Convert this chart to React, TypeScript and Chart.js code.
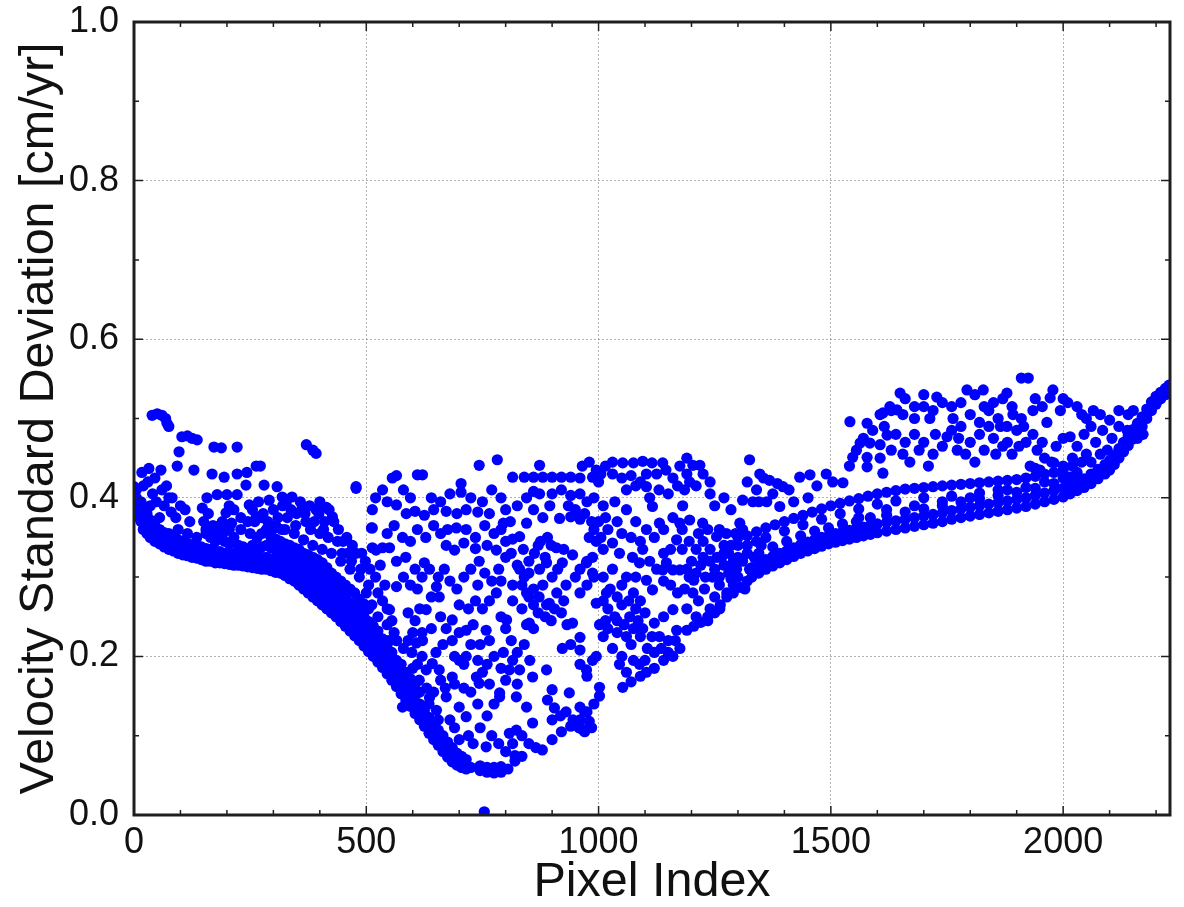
import { useEffect, useRef } from "react";
import { Chart, registerables } from "chart.js";

Chart.register(...registerables);

type Col = [number, number[]];
type Pt = [number, number];

const xTitle = "Pixel Index";
const yTitle = "Velocity Standard Deviation [cm/yr]";
const xMin = 0;
const xMax = 2230;
const yMin = 0;
const yMax = 1.0;
const xTickValues = [0, 500, 1000, 1500, 2000];
const yTickValues = [0, 0.2, 0.4, 0.6, 0.8, 1.0];

// dense descending band on the left and the lower edge of the valley
const leftBand: Col[] = [
  [0, [0.414, 0.405, 0.395]],
  [5, [0.4, 0.385, 0.41]],
  [10, [0.39, 0.375]],
  [15, [0.38, 0.37, 0.395]],
  [20, [0.372, 0.36, 0.385]],
  [28, [0.365, 0.355, 0.38]],
  [35, [0.36, 0.35, 0.372, 0.39]],
  [45, [0.355, 0.345, 0.365]],
  [55, [0.35, 0.342, 0.36, 0.375]],
  [65, [0.347, 0.338, 0.356]],
  [75, [0.345, 0.335, 0.355]],
  [85, [0.34, 0.333, 0.352]],
  [95, [0.338, 0.33, 0.347, 0.36]],
  [105, [0.335, 0.328, 0.345]],
  [115, [0.333, 0.327, 0.343, 0.355]],
  [125, [0.332, 0.325, 0.34]],
  [135, [0.33, 0.324, 0.34, 0.35]],
  [145, [0.328, 0.322, 0.338]],
  [155, [0.327, 0.32, 0.336, 0.355, 0.36]],
  [165, [0.325, 0.32, 0.335, 0.35, 0.362]],
  [175, [0.324, 0.318, 0.333, 0.345, 0.358]],
  [185, [0.323, 0.318, 0.332, 0.35, 0.365]],
  [195, [0.322, 0.317, 0.33, 0.345, 0.357]],
  [205, [0.321, 0.316, 0.33, 0.342, 0.36]],
  [215, [0.32, 0.315, 0.33, 0.35]],
  [225, [0.32, 0.315, 0.328, 0.34]],
  [235, [0.32, 0.314, 0.327, 0.338]],
  [245, [0.319, 0.313, 0.327, 0.335]],
  [255, [0.318, 0.312, 0.326, 0.34]],
  [265, [0.317, 0.311, 0.325, 0.335, 0.35]],
  [275, [0.317, 0.31, 0.325, 0.338, 0.355]],
  [285, [0.316, 0.31, 0.325, 0.34, 0.36]],
  [295, [0.315, 0.308, 0.323, 0.337, 0.35]],
  [305, [0.313, 0.306, 0.322, 0.335, 0.348, 0.365]],
  [315, [0.312, 0.305, 0.32, 0.332, 0.345]],
  [325, [0.31, 0.302, 0.318, 0.33, 0.342, 0.36]],
  [335, [0.308, 0.298, 0.316, 0.327, 0.34]],
  [345, [0.305, 0.295, 0.312, 0.325, 0.337, 0.355]],
  [355, [0.3, 0.29, 0.31, 0.322, 0.335]],
  [365, [0.296, 0.285, 0.306, 0.318, 0.33, 0.347]],
  [375, [0.292, 0.28, 0.302, 0.315, 0.328]],
  [385, [0.288, 0.275, 0.298, 0.312, 0.325, 0.34]],
  [395, [0.283, 0.27, 0.293, 0.308, 0.322]],
  [405, [0.278, 0.265, 0.288, 0.302, 0.318, 0.335]],
  [415, [0.273, 0.26, 0.283, 0.297, 0.312]],
  [425, [0.268, 0.255, 0.278, 0.292, 0.305, 0.33]],
  [435, [0.262, 0.25, 0.272, 0.287, 0.3]],
  [445, [0.257, 0.244, 0.266, 0.28, 0.295, 0.32]],
  [455, [0.25, 0.238, 0.26, 0.275, 0.29]],
  [465, [0.244, 0.232, 0.254, 0.268, 0.285, 0.31]],
  [475, [0.238, 0.226, 0.248, 0.262, 0.28]],
  [485, [0.232, 0.22, 0.242, 0.256, 0.272, 0.3]],
  [495, [0.225, 0.213, 0.235, 0.25, 0.266]],
  [505, [0.218, 0.206, 0.228, 0.244, 0.26, 0.29]],
  [515, [0.21, 0.2, 0.222, 0.238]],
  [525, [0.203, 0.193, 0.215, 0.232, 0.25]],
  [535, [0.196, 0.186, 0.208, 0.222]],
  [545, [0.188, 0.178, 0.2, 0.215, 0.24]],
  [555, [0.18, 0.17, 0.19, 0.205]],
  [565, [0.172, 0.162, 0.182, 0.195, 0.22]],
  [575, [0.163, 0.153, 0.175, 0.19]],
  [585, [0.155, 0.145, 0.167, 0.18]],
  [595, [0.147, 0.137, 0.158, 0.172]],
  [605, [0.138, 0.128, 0.15, 0.165]],
  [615, [0.13, 0.12, 0.14, 0.155]],
  [625, [0.122, 0.112, 0.132]],
  [635, [0.113, 0.103, 0.123, 0.14]],
  [645, [0.105, 0.095, 0.115]],
  [655, [0.097, 0.088, 0.107, 0.12]],
  [665, [0.09, 0.08, 0.1]],
  [675, [0.082, 0.073, 0.092]],
  [685, [0.075, 0.067, 0.085]],
  [695, [0.07, 0.063, 0.078]],
  [705, [0.066, 0.06, 0.074]],
  [715, [0.062, 0.058, 0.07]],
  [725, [0.06]],
  [745, [0.056, 0.062]],
  [760, [0.054, 0.06]],
  [775, [0.053, 0.06]],
  [790, [0.054, 0.061]],
  [805, [0.058]],
  [820, [0.068, 0.075]],
  [835, [0.074]],
];

// scattered points above the left band
const leftUpper: Pt[] = [
  [39, 0.504], [50, 0.506], [60, 0.504], [68, 0.5], [71, 0.494], [75, 0.49],
  [103, 0.477], [115, 0.478], [125, 0.475], [136, 0.473], [97, 0.458], [172, 0.464],
  [188, 0.463], [222, 0.464], [93, 0.44], [129, 0.435], [168, 0.43], [194, 0.426],
  [222, 0.43], [243, 0.432], [263, 0.44], [272, 0.44], [17, 0.432], [32, 0.437],
  [58, 0.435], [45, 0.425], [371, 0.467], [392, 0.456], [385, 0.46], [478, 0.412],
  [60, 0.41], [147, 0.387], [157, 0.4], [179, 0.404], [200, 0.404], [222, 0.404],
  [198, 0.381], [80, 0.382], [82, 0.4], [70, 0.415], [241, 0.416], [280, 0.416],
  [308, 0.414], [248, 0.391], [263, 0.376], [291, 0.397], [319, 0.401], [340, 0.401],
  [362, 0.388], [392, 0.385], [414, 0.388], [427, 0.376], [284, 0.356], [306, 0.363],
  [513, 0.385], [513, 0.362], [521, 0.334], [170, 0.365], [190, 0.37], [210, 0.368],
  [230, 0.36], [250, 0.355], [260, 0.37], [275, 0.375], [300, 0.385], [320, 0.39],
  [330, 0.375], [350, 0.38], [370, 0.37], [380, 0.36], [400, 0.355], [410, 0.37],
  [440, 0.36], [450, 0.345], [470, 0.34], [460, 0.33], [490, 0.33], [478, 0.414],
  [245, 0.37], [255, 0.385], [268, 0.395], [278, 0.38], [288, 0.37], [298, 0.36],
  [310, 0.375], [318, 0.36], [328, 0.395], [338, 0.385], [348, 0.365], [358, 0.395],
  [368, 0.38], [378, 0.39], [388, 0.37], [398, 0.38], [408, 0.36], [418, 0.35],
  [430, 0.37], [438, 0.345], [448, 0.33], [458, 0.35], [468, 0.32], [478, 0.33],
  [488, 0.31], [498, 0.32], [508, 0.31], [520, 0.3], [530, 0.315], [540, 0.29],
  [535, 0.27], [525, 0.28], [500, 0.28], [512, 0.265], [545, 0.26], [555, 0.245],
  [560, 0.23], [548, 0.22], [400, 0.395], [420, 0.385], [230, 0.375], [215, 0.385],
  [205, 0.39], [150, 0.37], [160, 0.38], [120, 0.37], [110, 0.385], [100, 0.39],
  [90, 0.375], [40, 0.405], [30, 0.42], [20, 0.415], [48, 0.395], [65, 0.39], [75, 0.4],
];

// scattered points inside the valley (x 500 - 1000)
const valleyScatter: Pt[] = [
  [556, 0.425], [565, 0.428], [610, 0.429], [621, 0.429], [704, 0.418], [704, 0.407],
  [743, 0.441], [782, 0.448], [873, 0.441], [815, 0.426], [840, 0.426], [860, 0.426],
  [880, 0.426], [900, 0.426], [920, 0.426], [940, 0.426], [960, 0.425],
  [565, 0.391], [586, 0.38], [605, 0.383], [625, 0.378], [645, 0.385], [672, 0.383],
  [695, 0.38], [715, 0.385], [740, 0.382], [765, 0.38], [845, 0.4], [860, 0.408],
  [873, 0.405], [900, 0.405], [920, 0.41], [940, 0.403], [960, 0.405], [916, 0.374],
  [940, 0.376], [960, 0.373],
  [511, 0.362], [694, 0.362], [715, 0.36], [735, 0.35], [755, 0.365], [775, 0.355],
  [795, 0.368], [815, 0.348], [845, 0.368], [830, 0.351],
  [513, 0.337], [535, 0.337], [550, 0.337], [565, 0.32], [585, 0.325], [605, 0.31],
  [625, 0.318], [636, 0.31], [672, 0.34], [690, 0.334], [710, 0.343], [735, 0.336],
  [760, 0.34], [780, 0.334], [743, 0.32], [755, 0.305], [770, 0.295], [785, 0.31],
  [800, 0.325], [815, 0.29], [873, 0.31], [888, 0.318], [909, 0.337], [922, 0.318],
  [944, 0.328], [974, 0.318], [960, 0.28],
  [629, 0.259], [651, 0.288], [657, 0.275], [685, 0.246], [715, 0.233], [758, 0.233],
  [802, 0.246], [851, 0.242], [815, 0.27], [835, 0.26], [850, 0.275], [870, 0.255],
  [888, 0.265], [894, 0.267], [944, 0.242], [960, 0.224], [922, 0.21], [940, 0.215],
  [960, 0.208],
  [685, 0.22], [715, 0.2], [700, 0.195], [621, 0.22], [629, 0.183], [642, 0.191],
  [614, 0.17], [657, 0.183], [685, 0.174], [743, 0.166], [737, 0.174], [787, 0.154],
  [823, 0.149], [808, 0.183], [830, 0.183], [858, 0.174], [888, 0.183], [900, 0.158],
  [937, 0.154], [974, 0.183], [987, 0.195], [960, 0.136],
  [672, 0.149], [651, 0.132], [700, 0.136], [700, 0.095], [715, 0.124], [758, 0.086],
  [808, 0.103], [823, 0.107], [787, 0.149], [845, 0.136], [858, 0.116],
  [879, 0.082], [900, 0.095], [920, 0.105], [940, 0.112], [960, 0.12], [975, 0.13],
  [990, 0.14], [1002, 0.15], [980, 0.118], [965, 0.108],
  [565, 0.288], [550, 0.259], [565, 0.22], [580, 0.21], [600, 0.23], [608, 0.217],
  [620, 0.23], [690, 0.2], [710, 0.19], [570, 0.18], [590, 0.165], [610, 0.19],
  [630, 0.16], [578, 0.136], [600, 0.14], [620, 0.125], [636, 0.148], [754, 0.004],
  [840, 0.3], [860, 0.285], [880, 0.29], [900, 0.3], [850, 0.32], [830, 0.31],
  [870, 0.34], [890, 0.35], [905, 0.26], [925, 0.27], [930, 0.29], [950, 0.3],
  [975, 0.29], [990, 0.3],
  [790, 0.36], [800, 0.345], [812, 0.33], [825, 0.315], [838, 0.335], [850, 0.305],
  [862, 0.33], [875, 0.345], [885, 0.325], [898, 0.34], [912, 0.31], [925, 0.335],
  [835, 0.29], [845, 0.28], [860, 0.265], [872, 0.275], [885, 0.25], [898, 0.245],
  [910, 0.28], [920, 0.255], [932, 0.24], [845, 0.24], [860, 0.235],
  [790, 0.25], [800, 0.235], [812, 0.22], [825, 0.205], [840, 0.215], [852, 0.195],
  [795, 0.205], [815, 0.195], [800, 0.17], [790, 0.185], [825, 0.165],
  [890, 0.145], [905, 0.135], [918, 0.125], [930, 0.13], [945, 0.12], [958, 0.11],
  [970, 0.105], [900, 0.12],
  [520, 0.4], [535, 0.41], [545, 0.395], [580, 0.41], [595, 0.4], [640, 0.4],
  [660, 0.395], [680, 0.405], [725, 0.4], [750, 0.395], [770, 0.41], [790, 0.4],
  [800, 0.385], [810, 0.37], [825, 0.39],
  [545, 0.355], [560, 0.365], [578, 0.35], [595, 0.345], [610, 0.36], [628, 0.35],
  [645, 0.365], [660, 0.355], [675, 0.36],
  [580, 0.3], [595, 0.29], [610, 0.285], [620, 0.3], [640, 0.275], [655, 0.3],
  [668, 0.31], [680, 0.295], [695, 0.285], [710, 0.3], [725, 0.31], [740, 0.29],
  [700, 0.265], [720, 0.26], [735, 0.27], [750, 0.26], [765, 0.27], [780, 0.28],
  [790, 0.295],
  [590, 0.255], [605, 0.245], [615, 0.26], [640, 0.235], [660, 0.25], [672, 0.235],
  [700, 0.23], [730, 0.24], [745, 0.215], [765, 0.22], [775, 0.2], [760, 0.19],
  [725, 0.215], [740, 0.195], [750, 0.18], [765, 0.165], [775, 0.14], [760, 0.125],
  [740, 0.14], [725, 0.155], [710, 0.16], [690, 0.165], [670, 0.16], [660, 0.17],
  [645, 0.155], [680, 0.12], [690, 0.11], [720, 0.1], [730, 0.09], [745, 0.11],
  [770, 0.1], [785, 0.09], [800, 0.08], [815, 0.09], [835, 0.1], [850, 0.09],
  [865, 0.085], [590, 0.22], [598, 0.205], [650, 0.205], [665, 0.215], [600, 0.185],
  [620, 0.2], [860, 0.385], [880, 0.375], [895, 0.39], [935, 0.39], [950, 0.385],
  [970, 0.38], [985, 0.37],
];

// scattered points in the middle-right (x 960 - 1650)
const midScatter: Pt[] = [
  [1052, 0.444], [1075, 0.444], [1095, 0.446], [1115, 0.444], [1138, 0.444], [1190, 0.45],
  [1203, 0.441], [1218, 0.441], [987, 0.426], [1005, 0.43], [1030, 0.43], [1050, 0.425],
  [1070, 0.428], [1090, 0.42], [1103, 0.43], [1103, 0.414], [1181, 0.39], [1185, 0.41],
  [1190, 0.43], [1196, 0.42], [1325, 0.448], [1347, 0.43], [1368, 0.422], [1385, 0.418],
  [1397, 0.414], [1433, 0.426], [1455, 0.429], [1451, 0.4], [1504, 0.42], [1526, 0.419],
  [1563, 0.469], [1584, 0.469], [1606, 0.467], [1547, 0.451], [1578, 0.451], [1578, 0.439],
  [1612, 0.431], [1621, 0.479], [1541, 0.496], [1578, 0.494], [1612, 0.507], [1627, 0.515],
  [1642, 0.511],
  [1310, 0.397], [1332, 0.395], [1345, 0.395], [1362, 0.395], [1390, 0.389], [1110, 0.4],
  [1130, 0.41], [1150, 0.405], [1170, 0.415], [1116, 0.389], [1131, 0.368], [1103, 0.36],
  [1175, 0.368], [1196, 0.372], [1224, 0.368], [1254, 0.351], [1304, 0.368], [1310, 0.36],
  [987, 0.325], [1010, 0.335], [1030, 0.343], [1045, 0.33], [1073, 0.325], [1088, 0.318],
  [1103, 0.296], [1116, 0.284], [1146, 0.318], [1155, 0.335], [1168, 0.347], [1138, 0.309],
  [1160, 0.309], [1175, 0.309],
  [1190, 0.31], [1200, 0.32], [1210, 0.305], [1220, 0.315], [1230, 0.3], [1240, 0.32],
  [1250, 0.31], [1260, 0.3], [1270, 0.315], [1280, 0.305], [1290, 0.32], [1297, 0.31],
  [1205, 0.296], [1225, 0.325], [1245, 0.3], [1265, 0.325], [1285, 0.298],
  [1203, 0.28], [1215, 0.27], [1228, 0.285], [1240, 0.26], [1250, 0.275], [1262, 0.265],
  [1276, 0.28], [1190, 0.26], [1210, 0.25], [1235, 0.245],
  [960, 0.31], [975, 0.32], [987, 0.305], [995, 0.267], [1017, 0.28], [1002, 0.24],
  [1020, 0.235], [1040, 0.245], [1060, 0.225], [1010, 0.225], [1030, 0.21], [1050, 0.2],
  [1070, 0.215], [1088, 0.19], [1045, 0.19], [1067, 0.25], [1085, 0.245], [1100, 0.255],
  [1120, 0.242], [1140, 0.25], [1160, 0.259], [1131, 0.225], [1150, 0.22], [1168, 0.233],
  [960, 0.19], [975, 0.175], [995, 0.2], [1002, 0.161], [970, 0.13], [985, 0.11],
  [1052, 0.161], [1070, 0.168], [1090, 0.175], [1103, 0.18], [1120, 0.185], [1140, 0.195],
  [1160, 0.2], [1175, 0.21], [1190, 0.233], [1205, 0.238], [1220, 0.243], [1235, 0.25],
  [1250, 0.255], [1261, 0.26], [1276, 0.275], [1290, 0.28], [1305, 0.287], [1320, 0.295],
  [1300, 0.3], [1310, 0.32], [1320, 0.33], [1290, 0.31], [1300, 0.34], [1280, 0.33],
  [1270, 0.34], [1315, 0.285], [1325, 0.31], [1335, 0.325], [1350, 0.34], [1260, 0.29],
  [1290, 0.29],
  [975, 0.395], [990, 0.4], [1010, 0.39], [1035, 0.395], [1060, 0.385], [1080, 0.37],
  [1000, 0.37], [1020, 0.36], [1050, 0.355], [1070, 0.35], [1090, 0.345], [980, 0.35],
  [995, 0.345], [1040, 0.37], [1120, 0.35], [1140, 0.36], [1160, 0.375], [1180, 0.36],
  [1140, 0.33], [1010, 0.3], [1030, 0.31], [1050, 0.29], [1060, 0.3], [1075, 0.28],
  [1090, 0.27], [1020, 0.26], [1040, 0.275], [1080, 0.3],
  [965, 0.44], [980, 0.445], [995, 0.435], [1000, 0.42], [1015, 0.44], [1030, 0.445],
  [990, 0.36], [1005, 0.35], [1015, 0.375],
  [1010, 0.27], [1025, 0.285], [1035, 0.25], [1050, 0.265], [1065, 0.27], [1080, 0.26],
  [1095, 0.235], [1015, 0.245], [1040, 0.23], [1055, 0.24], [1075, 0.235], [1090, 0.225],
  [1105, 0.21], [1120, 0.205], [1135, 0.21], [1150, 0.205], [1165, 0.22], [1060, 0.18],
  [1075, 0.195], [1100, 0.195], [1115, 0.225],
  [1060, 0.41], [1080, 0.415], [1125, 0.43], [1145, 0.435], [1160, 0.425], [1175, 0.44],
  [1210, 0.415], [1225, 0.43], [1240, 0.42],
  [1095, 0.335], [1110, 0.32], [1125, 0.31], [1140, 0.295], [1155, 0.29], [1170, 0.28],
  [1185, 0.285], [1195, 0.3], [1180, 0.335], [1195, 0.345], [1210, 0.335], [1225, 0.345],
  [1240, 0.335], [1255, 0.325], [1270, 0.33], [1285, 0.34], [1300, 0.325], [1215, 0.355],
  [1235, 0.36], [1260, 0.36], [1275, 0.355], [1295, 0.355],
  [1250, 0.39], [1270, 0.4], [1285, 0.385], [1240, 0.405], [1320, 0.42], [1340, 0.41],
  [1355, 0.425], [1375, 0.405], [1410, 0.41], [1420, 0.395], [1470, 0.415], [1490, 0.43],
];

// rising lower strand on the right
const rightLower: Col[] = [
  [1330, [0.3, 0.312]], [1345, [0.305, 0.318, 0.33]], [1360, [0.31, 0.322]],
  [1375, [0.314, 0.326, 0.338]], [1390, [0.318, 0.33]], [1405, [0.322, 0.333, 0.345]],
  [1420, [0.326, 0.337]], [1435, [0.33, 0.341, 0.352]], [1450, [0.333, 0.344]],
  [1465, [0.336, 0.347, 0.358]], [1480, [0.339, 0.35]], [1495, [0.342, 0.352, 0.362]],
  [1510, [0.344, 0.355]], [1525, [0.346, 0.357, 0.367]], [1540, [0.348, 0.359]],
  [1555, [0.35, 0.361, 0.37]], [1570, [0.352, 0.363]], [1585, [0.354, 0.365, 0.375]],
  [1600, [0.356, 0.367]], [1620, [0.358, 0.369, 0.378]], [1640, [0.36, 0.371]],
  [1660, [0.362, 0.373, 0.382]], [1680, [0.364, 0.375]], [1700, [0.366, 0.377, 0.386]],
  [1720, [0.368, 0.379]], [1740, [0.37, 0.381, 0.39]], [1760, [0.373, 0.384]],
  [1780, [0.375, 0.386, 0.395]], [1800, [0.377, 0.388]], [1820, [0.379, 0.39, 0.399]],
  [1840, [0.381, 0.392]], [1860, [0.383, 0.394, 0.403]], [1880, [0.385, 0.396]],
  [1900, [0.387, 0.398, 0.407]], [1920, [0.389, 0.4]], [1940, [0.392, 0.403, 0.412]],
  [1960, [0.395, 0.406]], [1980, [0.398, 0.409, 0.418]], [2000, [0.401, 0.412]],
  [2015, [0.405, 0.416, 0.426]], [2030, [0.409, 0.42]], [2045, [0.413, 0.424]],
  [2060, [0.418, 0.43]], [2075, [0.424, 0.436]], [2090, [0.43, 0.442]],
  [2100, [0.435, 0.447]], [2110, [0.442, 0.454]], [2120, [0.45, 0.462]],
  [2130, [0.458, 0.47]], [2140, [0.466, 0.478]], [2150, [0.474, 0.486]],
  [2160, [0.482, 0.494]], [2170, [0.49, 0.502]], [2180, [0.5, 0.512]],
  [2190, [0.51, 0.521]], [2200, [0.518, 0.528]], [2210, [0.525, 0.533]],
  [2220, [0.53, 0.538]], [2228, [0.535, 0.542]],
];

// upper strand on the right
const rightUpper: Col[] = [
  [1300, [0.35]], [1320, [0.352, 0.34]], [1340, [0.357, 0.345]], [1360, [0.362, 0.35]],
  [1380, [0.366]], [1400, [0.37, 0.358]], [1420, [0.374]], [1440, [0.378, 0.366]],
  [1460, [0.382]], [1480, [0.386, 0.373]], [1500, [0.39]], [1520, [0.393, 0.38]],
  [1540, [0.396]], [1560, [0.399, 0.386]], [1580, [0.402]], [1600, [0.405, 0.392]],
  [1620, [0.407]], [1640, [0.409, 0.396]], [1660, [0.411]], [1680, [0.412]],
  [1700, [0.413, 0.4]], [1720, [0.414]], [1740, [0.415]], [1760, [0.416, 0.402]],
  [1780, [0.417]], [1800, [0.418]], [1820, [0.419, 0.406]], [1840, [0.42]],
  [1860, [0.421]], [1880, [0.422, 0.41]], [1900, [0.423]], [1920, [0.425]],
  [1940, [0.427, 0.437]], [1960, [0.43]], [1980, [0.432, 0.444]], [2000, [0.435]],
  [2020, [0.44, 0.45]], [2040, [0.445]],
];

// scattered points above the right band
const rightScatter: Pt[] = [
  [1606, 0.45], [1630, 0.46], [1660, 0.47], [1690, 0.46], [1720, 0.455], [1750, 0.477],
  [1772, 0.46], [1800, 0.47], [1820, 0.48], [1850, 0.475], [1870, 0.465], [1900, 0.485],
  [1920, 0.47], [1944, 0.46], [1929, 0.44], [1950, 0.435], [1975, 0.445], [2000, 0.44],
  [2015, 0.477],
  [1606, 0.505], [1630, 0.51], [1655, 0.505], [1680, 0.5], [1700, 0.515], [1713, 0.5],
  [1763, 0.5], [1780, 0.49], [1800, 0.505], [1820, 0.495], [1840, 0.51], [1860, 0.5],
  [1879, 0.49], [1892, 0.505], [1910, 0.5], [1935, 0.51], [1965, 0.495], [1994, 0.51],
  [2010, 0.52], [2030, 0.515], [2050, 0.5], [2065, 0.51], [2080, 0.505], [2100, 0.498],
  [2120, 0.51], [2140, 0.505], [2151, 0.51], [2138, 0.485], [2160, 0.475], [2172, 0.48],
  [1649, 0.532], [1728, 0.527], [1793, 0.536], [1828, 0.536], [1879, 0.532], [1910, 0.551],
  [1925, 0.551], [1978, 0.536], [1972, 0.526], [1660, 0.525], [1810, 0.53],
  [1540, 0.44], [1555, 0.46], [1570, 0.475], [1590, 0.485], [1615, 0.49], [1640, 0.48],
  [1655, 0.455], [1670, 0.445], [1680, 0.48], [1700, 0.47], [1710, 0.44], [1725, 0.48],
  [1740, 0.465], [1760, 0.485], [1775, 0.475], [1790, 0.455], [1810, 0.445], [1830, 0.46],
  [1840, 0.49], [1855, 0.455], [1865, 0.49], [1880, 0.47], [1890, 0.455], [1905, 0.465],
  [1915, 0.49], [1935, 0.48], [1955, 0.47], [1960, 0.45], [1985, 0.465], [2000, 0.475],
  [2030, 0.465], [2045, 0.48], [2060, 0.49], [2085, 0.485], [2105, 0.475], [2120, 0.49],
  [1700, 0.53], [1740, 0.52], [1760, 0.515], [1850, 0.52], [1870, 0.525], [1940, 0.525],
  [1955, 0.515], [2000, 0.525], [2040, 0.505], [1680, 0.515], [1720, 0.51], [1780, 0.52],
  [1830, 0.515], [1890, 0.515],
  [1560, 0.375], [1620, 0.385], [1680, 0.39], [1740, 0.395], [1800, 0.4], [1860, 0.41],
  [1920, 0.413], [1960, 0.42], [2000, 0.425], [2030, 0.432], [2060, 0.445], [2080, 0.455],
  [2095, 0.46], [2050, 0.455], [2070, 0.47],
];

function fromCols(cols: Col[]) {
  const out: { x: number; y: number }[] = [];
  for (const [x, ys] of cols) for (const y of ys) out.push({ x, y });
  return out;
}
function fromPts(pts: Pt[]) {
  return pts.map(([x, y]) => ({ x, y }));
}

const FONT = "'Liberation Sans', Arial, Helvetica, sans-serif";

const framePlugin = {
  id: "frameTicks",
  afterDatasetsDraw(chart: any) {
    const { ctx, chartArea: a, scales } = chart;
    const xs = scales.x;
    const ys = scales.y;
    ctx.save();
    ctx.strokeStyle = "#1e1e1e";
    ctx.lineWidth = 1.5;
    ctx.beginPath();
    for (let v = 0; v <= xMax; v += 100) {
      const px = xs.getPixelForValue(v);
      const len = v % 500 === 0 ? 9 : 5;
      ctx.moveTo(px, a.bottom);
      ctx.lineTo(px, a.bottom - len);
      ctx.moveTo(px, a.top);
      ctx.lineTo(px, a.top + len);
    }
    for (let i = 0; i <= 10; i++) {
      const py = ys.getPixelForValue(i / 10);
      const len = i % 2 === 0 ? 9 : 5;
      ctx.moveTo(a.left, py);
      ctx.lineTo(a.left + len, py);
      ctx.moveTo(a.right, py);
      ctx.lineTo(a.right - len, py);
    }
    ctx.stroke();
    ctx.lineWidth = 3;
    ctx.strokeRect(a.left, a.top, a.right - a.left, a.bottom - a.top);
    ctx.restore();
  },
};

export default function App() {
  const ref = useRef<HTMLCanvasElement | null>(null);
  useEffect(() => {
    if (!ref.current) return;
    const data = [
      ...fromCols(leftBand),
      ...fromPts(leftUpper),
      ...fromPts(valleyScatter),
      ...fromPts(midScatter),
      ...fromCols(rightLower),
      ...fromCols(rightUpper),
      ...fromPts(rightScatter),
    ];
    const chart = new Chart(ref.current, {
      type: "scatter",
      data: {
        datasets: [
          {
            data,
            backgroundColor: "#0000ff",
            borderColor: "#0000ff",
            borderWidth: 0,
            pointRadius: 5.6,
            pointHoverRadius: 5.6,
          },
        ],
      },
      options: {
        responsive: true,
        maintainAspectRatio: false,
        animation: false,
        events: [],
        layout: { padding: { left: 0, right: 14, top: 22, bottom: 0 } },
        plugins: { legend: { display: false }, tooltip: { enabled: false } },
        scales: {
          x: {
            type: "linear",
            min: xMin,
            max: xMax,
            afterBuildTicks: (s: any) => {
              s.ticks = xTickValues.map((v) => ({ value: v }));
            },
            afterFit: (s: any) => {
              s.height = 92;
              s.paddingLeft = 0;
              s.paddingRight = 0;
            },
            border: { display: false, dash: [2, 2] },
            grid: {
              color: "rgba(0,0,0,0.3)",
              lineWidth: 1,
              drawTicks: false,
            },
            ticks: {
              autoSkip: false,
              padding: 6,
              color: "#111",
              font: { family: FONT, size: 36 },
              maxRotation: 0,
              callback: (v: any) => String(v),
            },
            title: {
              display: true,
              text: xTitle,
              color: "#111",
              font: { family: FONT, size: 48.5, lineHeight: 1.0 },
              padding: { top: 0, bottom: 0 },
            },
          },
          y: {
            type: "linear",
            min: yMin,
            max: yMax,
            afterBuildTicks: (s: any) => {
              s.ticks = yTickValues.map((v) => ({ value: v }));
            },
            afterFit: (s: any) => {
              s.width = 134;
              s.paddingTop = 0;
              s.paddingBottom = 0;
            },
            border: { display: false, dash: [2, 2] },
            grid: {
              color: "rgba(0,0,0,0.3)",
              lineWidth: 1,
              drawTicks: false,
            },
            ticks: {
              autoSkip: false,
              padding: 15,
              color: "#111",
              font: { family: FONT, size: 36 },
              callback: (v: any) => Number(v).toFixed(1),
            },
            title: {
              display: true,
              text: yTitle,
              color: "#111",
              font: { family: FONT, size: 48.5 },
              padding: { top: 11, bottom: 0 },
            },
          },
        },
      },
      plugins: [framePlugin],
    });
    return () => chart.destroy();
  }, []);
  return (
    <div style={{ position: "absolute", left: 0, top: 0, width: 1184, height: 907, background: "#fff" }}>
      <canvas ref={ref} />
    </div>
  );
}
